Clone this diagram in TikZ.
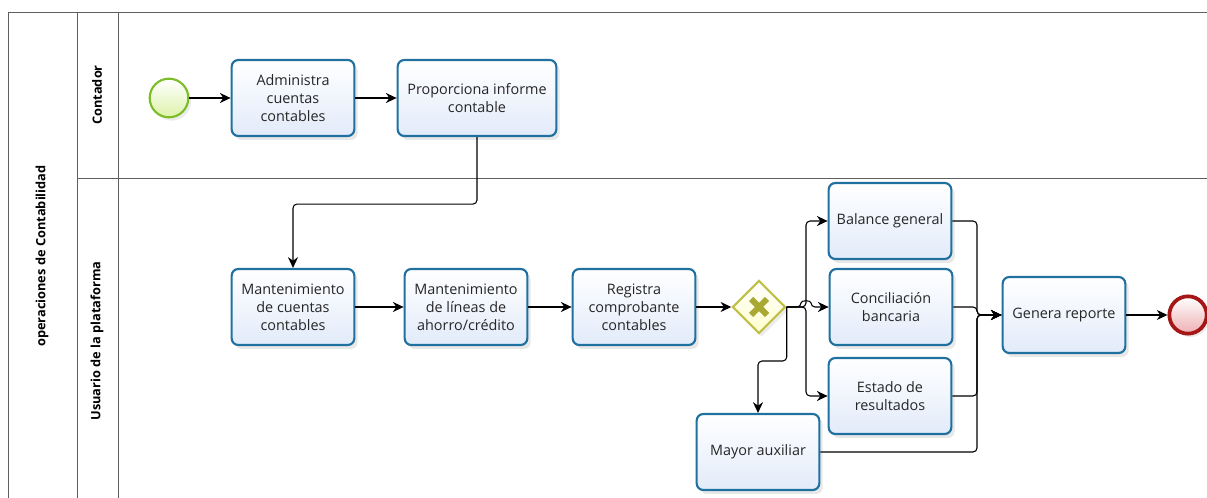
\documentclass[tikz,border=0pt]{standalone}
\usepackage{fontspec}
\setmainfont{Open Sans}
\usepackage{tikz}
\usetikzlibrary{arrows.meta}
\usetikzlibrary{shadows}
\usetikzlibrary{shapes.geometric}

\definecolor{taskline}{RGB}{32,112,160}
\definecolor{taskfill}{RGB}{226,235,250}
\definecolor{startline}{RGB}{125,190,40}
\definecolor{startfill}{RGB}{222,242,170}
\definecolor{endline}{RGB}{165,22,22}
\definecolor{endfill}{RGB}{238,175,180}
\definecolor{gwline}{RGB}{192,192,70}
\definecolor{gwfill}{RGB}{255,255,205}
\definecolor{gwmark}{RGB}{168,168,50}
\definecolor{laneline}{RGB}{95,95,95}

\begin{document}
\begin{tikzpicture}[x=0.75pt, y=-0.75pt,
	task/.style={draw=taskline, line width=1.6pt, rounded corners=5pt,
		top color=white, bottom color=taskfill, minimum width=92pt, minimum height=57pt,
		align=center, text=black!85, font=\fontsize{10.8}{13.5}\selectfont,
		drop shadow={opacity=0.18, shadow xshift=2.5pt, shadow yshift=-3pt}},
	startev/.style={circle, draw=startline, line width=1.6pt, inner sep=0pt, minimum size=29pt,
		top color=white, bottom color=startfill,
		drop shadow={opacity=0.15, shadow xshift=2pt, shadow yshift=-2.5pt}},
	endev/.style={circle, draw=endline, line width=2.8pt, inner sep=0pt, minimum size=28pt,
		top color=white, bottom color=endfill,
		drop shadow={opacity=0.15, shadow xshift=2pt, shadow yshift=-2.5pt}},
	gate/.style={diamond, draw=gwline, line width=1.6pt, inner sep=0pt, minimum size=40pt,
		top color=white, bottom color=gwfill,
		drop shadow={opacity=0.15, shadow xshift=2pt, shadow yshift=-2.5pt}},
	xmark/.style={draw=gwmark, line width=4.5pt},
	flow/.style={draw=black, line width=0.8pt, rounded corners=3pt,
		-{Stealth[length=8pt, width=7.5pt, inset=2.5pt]}},
	lane/.style={draw=laneline, line width=0.7pt},
	lanetitle/.style={rotate=90, font=\fontsize{9.6}{11}\selectfont\bfseries}]

	\useasboundingbox (0,0) rectangle (1207,498);
	\clip (0,0) rectangle (1207,498);
	%\draw [help lines, step=10, gray] (0,0) grid (1207,498);

	% pool and lanes
	\draw[lane] (8,498) -- (8,12) -- (1207,12);
	\draw[lane] (77,12) -- (77,498);
	\draw[lane] (118,12) -- (118,498);
	\draw[lane] (77,178) -- (1207,178);

	\node[lanetitle] (pool) at (42,256) {operaciones de Contabilidad};
	\node[lanetitle] (contador) at (97,95) {Contador};
	\node[lanetitle] (usuario) at (97,341) {Usuario de la plataforma};

	% Contador
	\node[startev] (start) at (169,98) {};
	\node[task] (adm) at (293,98) {Administra\\cuentas\\contables};
	\node[task, minimum width=119pt] (prop) at (477,98) {Proporciona informe\\contable};

	% Usuario de la plataforma
	\node[task] (mant) at (293,307) {Mantenimiento\\de cuentas\\contables};
	\node[task] (lineas) at (466,307) {Mantenimiento\\de l\'ineas de\\ahorro/cr\'edito};
	\node[task] (reg) at (634,307) {Registra\\comprobante\\contables};
	\node[gate] (gw) at (759,307) {};
	\draw[xmark] (gw.center) ++(-8,-8) -- ++(16,16);
	\draw[xmark] (gw.center) ++(8,-8) -- ++(-16,16);

	\node[task] (balance) at (890,221) {Balance general};
	\node[task] (concil) at (891,307) {Conciliaci\'on\\bancaria};
	\node[task] (estado) at (890,396) {Estado de\\resultados};
	\node[task] (mayor) at (758,452) {Mayor auxiliar};
	\node[task] (genera) at (1064,315) {Genera reporte};
	\node[endev] (end) at (1188,315) {};

	\coordinate (split) at (806,307);
	\coordinate (drop) at (758,361);
	\coordinate (mrg) at (977,315);

	% flows
	\draw[flow] (start) -- (adm);
	\draw[flow] (adm) -- (prop);
	\draw[flow] (prop.south) -- ++(0,67) -| (mant.north);
	\draw[flow] (mant) -- (lineas);
	\draw[flow] (lineas) -- (reg);
	\draw[flow] (reg) -- (gw);
	\draw[flow] (gw.east) -- (split) |- (balance.west);
	\draw[flow] (gw.east) -- (split) |- (estado.west);
	\draw[flow] (gw.east) -- (801,307) .. controls (801,300) and (811,300) .. (811,307) -- (concil.west);
	\draw[flow] (gw.east) |- (drop) -- (mayor.north);
	\draw[flow] (balance.east) -| (mrg) -- (genera.west);
	\draw[flow] (concil.east) -| (mrg) -- (genera.west);
	\draw[flow] (estado.east) -| (mrg) -- (genera.west);
	\draw[flow] (mayor.east) -| (mrg) -- (genera.west);
	\draw[flow] (genera) -- (end);
\end{tikzpicture}
\end{document}
